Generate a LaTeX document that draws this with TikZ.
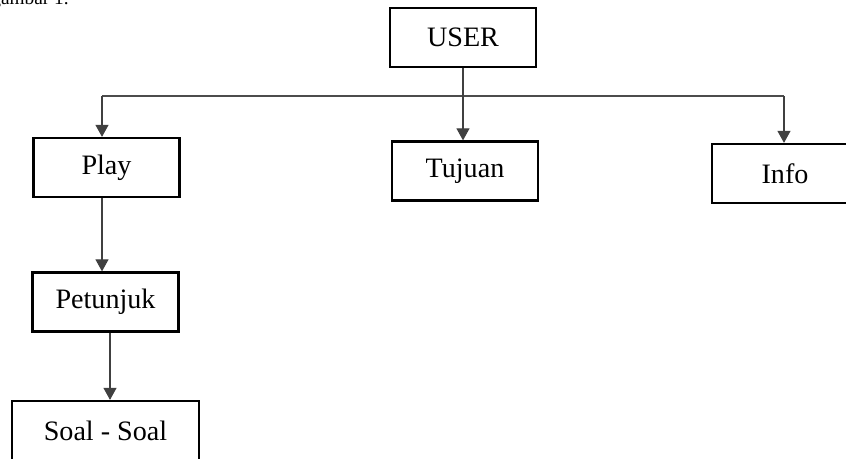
\documentclass[tikz,border=0pt]{standalone}
\usepackage{fontspec}
\setmainfont{Liberation Serif}
\usetikzlibrary{arrows.meta}

\begin{document}
\begin{tikzpicture}[
        x=0.02cm, y=-0.02cm,
        menu/.style={
            rectangle,
            draw=black,
            line width=1.3pt,
            fill=white,
            minimum width=2.92cm,
            minimum height=1.18cm,
            inner sep=0pt,
            font=\fontsize{16}{19}\selectfont
        },
        link/.style={
            -{Triangle[width=0.26cm,length=0.24cm]},
            draw=black!75,
            line width=0.6pt
        },
        bus/.style={
            draw=black!70,
            line width=0.6pt
        }
    ]
        \useasboundingbox (0,0) rectangle (846,458);

        % Caption (cut off at the top)
        \node[anchor=base east, inner sep=0pt, font=\fontsize{11}{13}\selectfont] (caption) at (69,4) {gambar 1.};

        % Menu boxes
        \node[menu] (user) at (463,37.5) {USER};
        \node[menu] (play) at (106.5,167.5) {Play};
        \node[menu] (tujuan) at (465,171) {Tujuan};
        \node[menu] (info) at (785,173.5) {Info};
        \node[menu] (petunjuk) at (105.5,302) {Petunjuk};
        \node[menu, minimum width=3.74cm] (soal) at (105.5,430.5) {Soal - Soal};

        % Branch line
        \coordinate (busL) at (102,96);
        \coordinate (busR) at (784,96);
        \draw[bus] (busL) -- (busR);

        % Arrows
        \draw[link] (user.south) -- (user.south |- tujuan.north);
        \draw[link] (busL) -- (busL |- play.north);
        \draw[link] (busR) -- (busR |- info.north);
        \draw[link] ([xshift=-0.09cm]play.south) -- ([xshift=-0.09cm]play.south |- petunjuk.north);
        \draw[link] ([xshift=0.09cm]petunjuk.south) -- ([xshift=0.09cm]petunjuk.south |- soal.north);
    \end{tikzpicture}
\end{document}
